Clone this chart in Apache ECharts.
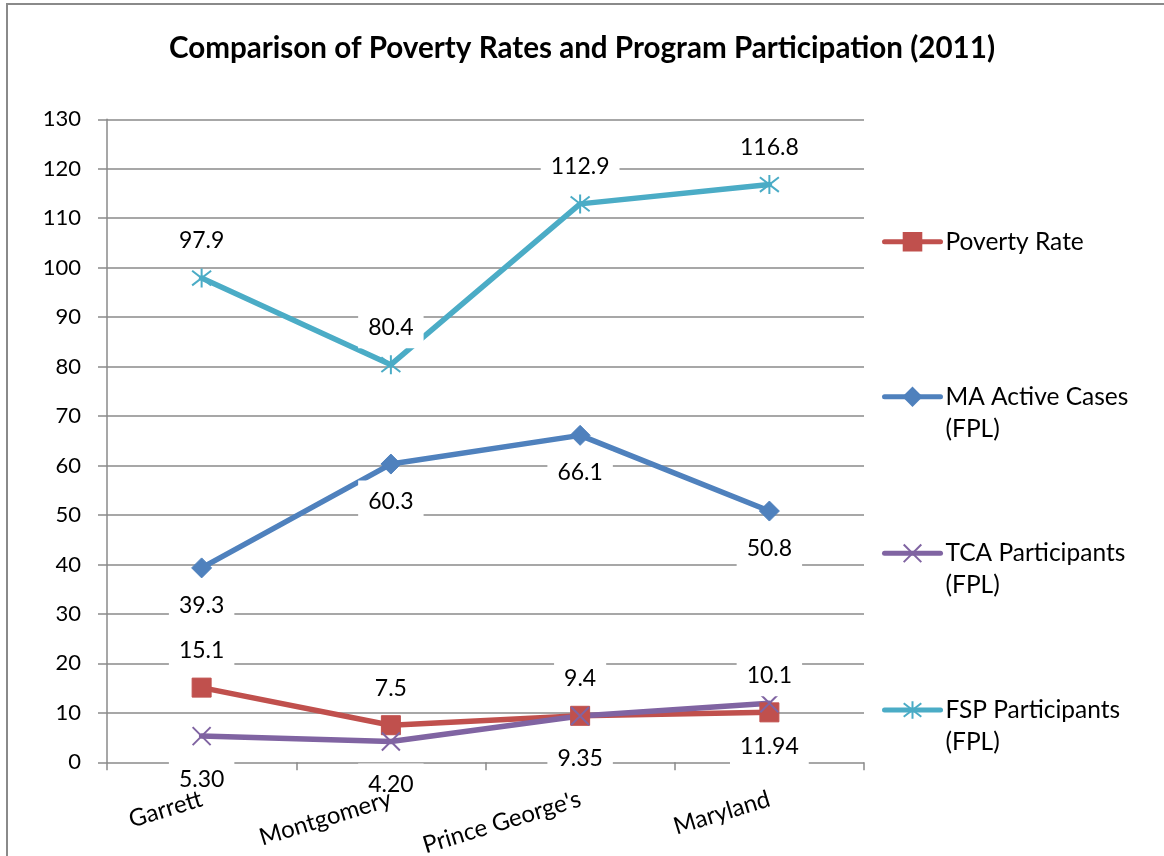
<!DOCTYPE html>
<html>
<head>
<meta charset="utf-8">
<script src="https://cdn.jsdelivr.net/npm/echarts@6/dist/echarts.min.js"></script>
<style>
  html, body { margin: 0; padding: 0; background: #fff; }
  #chart { width: 1164px; height: 856px; }
</style>
</head>
<body>
<div id="chart"></div>
<script>
// Counties compared, plus the state total
const categories = ['Garrett', 'Montgomery', "Prince George's", 'Maryland'];

// Series values (percent of federal poverty level where noted)
const povertyRate = [15.1, 7.5, 9.4, 10.1];
const maActiveCases = [39.3, 60.3, 66.1, 50.8];
const tcaParticipants = [5.30, 4.20, 9.35, 11.94];
const fspParticipants = [97.9, 80.4, 112.9, 116.8];

// Value axis range
const yMin = 0;
const yMax = 130;
const yStep = 10;

const titleText = 'Comparison of Poverty Rates and Program Participation (2011)';
const names = ['Poverty Rate', 'MA Active Cases (FPL)', 'TCA Participants (FPL)', 'FSP Participants (FPL)'];

const FONT = 'Lato, "Open Sans", sans-serif';
const GRID_COLOR = '#8a8a8a';

const chart = echarts.init(document.getElementById('chart'), null, { renderer: 'canvas' });

// Marker shapes drawn as strokes
const xMark = 'path://M0,0L10,10M10,0L0,10';
const starMark = 'path://M0,0L10,10M10,0L0,10M5,-1.5L5,11.5';

function valueLabel(position, distance, digits) {
  return {
    show: true,
    position: position,
    distance: distance,
    color: '#000',
    fontFamily: FONT,
    fontSize: 23,
    lineHeight: 26,
    backgroundColor: '#fff',
    padding: [8, 10],
    formatter: p => Number(p.value).toFixed(digits)
  };
}

function lineSeries(name, data, color, symbol, size, label, strokeMarker) {
  return {
    name: name,
    type: 'line',
    data: data,
    symbol: symbol,
    symbolSize: size,
    symbolKeepAspect: false,
    lineStyle: { color: color, width: 5.5, cap: 'round', join: 'round' },
    itemStyle: strokeMarker
      ? { color: color, borderColor: color, borderWidth: 2 }
      : { color: color, borderColor: color, borderWidth: 1 },
    label: label,
    emphasis: { disabled: true },
    animation: false
  };
}

// One legend block per series; wrapped names get an empty first line so the
// key sits beside the first line of text.
function legendFor(name, top, twoLine) {
  return {
    data: [name],
    orient: 'vertical',
    left: 882,
    top: top,
    padding: 0,
    itemWidth: 56,
    itemHeight: 22,
    lineStyle: { width: 5, cap: 'round' },
    textStyle: {
      color: '#000',
      fontFamily: FONT,
      fontSize: 24.5,
      lineHeight: 32
    },
    formatter: n => twoLine ? ' \n' + n.replace(' (FPL)', '\n(FPL)') : n,
    selectedMode: false
  };
}

const option = {
  backgroundColor: '#fff',
  animation: false,
  title: {
    text: titleText,
    left: 'center',
    top: 28,
    textStyle: {
      color: '#000',
      fontFamily: FONT,
      fontWeight: 'bold',
      fontSize: 29.6
    }
  },
  graphic: [{
    type: 'rect',
    shape: { x: 7, y: 4, width: 1400, height: 1000 },
    style: { fill: 'none', stroke: '#8a8a8a', lineWidth: 2 },
    silent: true,
    z: -1
  }],
  legend: [
    legendFor(names[0], 225.7, false),
    legendFor(names[1], 348.7, true),
    legendFor(names[2], 505.3, true),
    legendFor(names[3], 662, true)
  ],
  grid: { left: 107, right: 300, top: 119.3, bottom: 93.7, outerBoundsMode: 'none', containLabel: false },
  xAxis: {
    type: 'category',
    data: categories,
    boundaryGap: true,
    z: 5,
    // the baseline is the value axis' zero grid line, which value labels may cover
    axisLine: { show: false },
    axisTick: { show: true, length: 8, lineStyle: { color: GRID_COLOR, width: 1.5 } },
    axisLabel: {
      rotate: 17,
      margin: 36,
      color: '#000',
      fontFamily: FONT,
      fontSize: 24,
      interval: 0
    },
    splitLine: { show: false }
  },
  yAxis: {
    type: 'value',
    min: yMin,
    max: yMax,
    interval: yStep,
    axisLine: { show: true, lineStyle: { color: GRID_COLOR, width: 1.5 } },
    axisTick: { show: true, length: 9, lineStyle: { color: GRID_COLOR, width: 1.5 } },
    axisLabel: {
      margin: 26,
      color: '#000',
      fontFamily: FONT,
      fontSize: 22
    },
    splitLine: { show: true, showMinLine: true, lineStyle: { color: GRID_COLOR, width: 1.5 } }
  },
  series: [
    lineSeries(names[0], povertyRate, '#C0504D', 'rect', 19, valueLabel('top', 6, 1), false),
    lineSeries(names[1], maActiveCases, '#4F81BD', 'diamond', 20, valueLabel('bottom', 6, 1), false),
    lineSeries(names[2], tcaParticipants, '#8064A2', xMark, 18, valueLabel('bottom', 12, 2), true),
    lineSeries(names[3], fspParticipants, '#4BACC6', starMark, 19, valueLabel('top', 6, 1), true)
  ]
};

chart.setOption(option);
</script>
</body>
</html>
